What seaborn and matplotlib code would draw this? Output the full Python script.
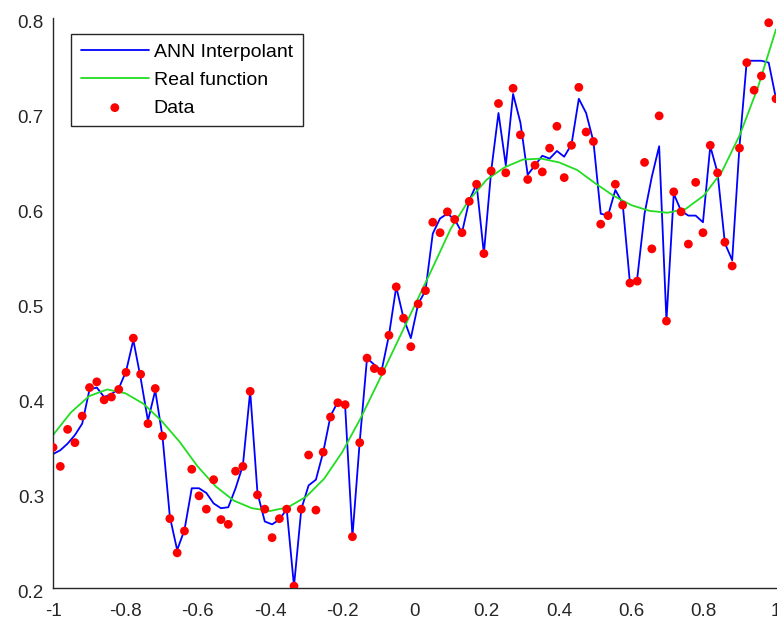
import numpy as np
import pandas as pd
import matplotlib
matplotlib.use("Agg")
import matplotlib.pyplot as plt
import seaborn as sns
from matplotlib.ticker import FuncFormatter, FixedLocator
from matplotlib.transforms import ScaledTranslation

# ---------------- data ----------------
data_x = np.linspace(-1, 1, 100)
data_y = [0.348, 0.328, 0.367, 0.353, 0.381, 0.411, 0.417, 0.398, 0.401, 0.409,
          0.427, 0.463, 0.425, 0.373, 0.410, 0.360, 0.273, 0.237, 0.260, 0.325,
          0.297, 0.283, 0.314, 0.272, 0.267, 0.323, 0.328, 0.407, 0.298, 0.283,
          0.253, 0.273, 0.283, 0.202, 0.283, 0.340, 0.282, 0.343, 0.380, 0.395,
          0.393, 0.254, 0.353, 0.442, 0.431, 0.428, 0.466, 0.517, 0.484, 0.454,
          0.499, 0.513, 0.585, 0.574, 0.596, 0.588, 0.574, 0.607, 0.625, 0.552,
          0.639, 0.710, 0.637, 0.726, 0.677, 0.630, 0.645, 0.638, 0.663, 0.686,
          0.632, 0.666, 0.727, 0.680, 0.670, 0.583, 0.592, 0.625, 0.603, 0.521,
          0.523, 0.648, 0.557, 0.697, 0.481, 0.617, 0.596, 0.562, 0.627, 0.574,
          0.666, 0.637, 0.564, 0.539, 0.663, 0.753, 0.724, 0.739, 0.795, 0.715]

ann_y = [0.341, 0.345, 0.352, 0.361, 0.373, 0.409, 0.411, 0.401, 0.404, 0.410,
         0.428, 0.461, 0.421, 0.376, 0.408, 0.359, 0.275, 0.240, 0.261, 0.305,
         0.305, 0.300, 0.289, 0.284, 0.285, 0.305, 0.329, 0.407, 0.300, 0.270,
         0.267, 0.272, 0.283, 0.202, 0.283, 0.308, 0.314, 0.343, 0.381, 0.396,
         0.392, 0.254, 0.354, 0.442, 0.435, 0.429, 0.466, 0.517, 0.484, 0.463,
         0.499, 0.513, 0.573, 0.589, 0.594, 0.588, 0.574, 0.608, 0.625, 0.552,
         0.639, 0.700, 0.645, 0.720, 0.690, 0.635, 0.645, 0.655, 0.652, 0.660,
         0.654, 0.667, 0.715, 0.700, 0.670, 0.594, 0.592, 0.619, 0.605, 0.521,
         0.526, 0.594, 0.633, 0.665, 0.481, 0.615, 0.597, 0.592, 0.592, 0.585,
         0.665, 0.637, 0.563, 0.545, 0.665, 0.755, 0.755, 0.755, 0.753, 0.715]

real_x = [-1.00, -0.95, -0.90, -0.85, -0.80, -0.75, -0.70, -0.65, -0.60, -0.55,
          -0.50, -0.45, -0.40, -0.35, -0.30, -0.25, -0.20, -0.15, -0.10, -0.05,
          0.00, 0.05, 0.10, 0.15, 0.20, 0.25, 0.30, 0.35, 0.40, 0.45,
          0.50, 0.55, 0.60, 0.65, 0.70, 0.75, 0.80, 0.85, 0.90, 0.95, 1.00]
real_y = [0.361, 0.385, 0.402, 0.409, 0.405, 0.394, 0.376, 0.354, 0.328, 0.307,
          0.292, 0.284, 0.281, 0.285, 0.296, 0.315, 0.343, 0.378, 0.417, 0.457,
          0.497, 0.537, 0.578, 0.608, 0.630, 0.643, 0.651, 0.652, 0.648, 0.640,
          0.626, 0.613, 0.603, 0.597, 0.595, 0.599, 0.613, 0.638, 0.677, 0.727, 0.788]

x_ticks = [-1, -0.8, -0.6, -0.4, -0.2, 0, 0.2, 0.4, 0.6, 0.8, 1]
y_ticks = [0.2, 0.3, 0.4, 0.5, 0.6, 0.7, 0.8]

df_ann = pd.DataFrame({"x": data_x, "y": ann_y})
df_real = pd.DataFrame({"x": real_x, "y": real_y})
df_data = pd.DataFrame({"x": data_x, "y": data_y})

# ---------------- style ----------------
sns.set_theme(style="white")
plt.rcParams["font.family"] = ["Liberation Sans", "DejaVu Sans"]
plt.rcParams["axes.unicode_minus"] = False

fig = plt.figure(figsize=(7.77, 6.26), dpi=100)
ax = fig.add_axes([53 / 777, 38 / 626, 723 / 777, 570 / 626])

sns.lineplot(data=df_ann, x="x", y="y", ax=ax, color="#0000ff", linewidth=1.3,
             estimator=None, sort=False, label="ANN Interpolant")
sns.lineplot(data=df_real, x="x", y="y", ax=ax, color="#22dd22", linewidth=1.3,
             estimator=None, sort=False, label="Real function")
sns.scatterplot(data=df_data, x="x", y="y", ax=ax, color="#ff0000", s=40,
                edgecolor="none", linewidth=0, label="Data", zorder=3)

ax.set_xlim(-1, 1)
ax.set_ylim(0.2, 0.8)
ax.xaxis.set_major_locator(FixedLocator(x_ticks))
ax.yaxis.set_major_locator(FixedLocator(y_ticks))
fmt = FuncFormatter(lambda v, p: "%g" % round(v, 2))
ax.xaxis.set_major_formatter(fmt)
ax.yaxis.set_major_formatter(fmt)
ax.set_xlabel("")
ax.set_ylabel("")

for side in ["top", "right"]:
    ax.spines[side].set_visible(False)
for side in ["left", "bottom"]:
    ax.spines[side].set_color("#262626")
    ax.spines[side].set_linewidth(1.0)

ax.tick_params(axis="both", direction="in", length=4, width=1.0,
               color="#262626", labelcolor="#262626", labelsize=13.5)
ax.tick_params(axis="x", pad=10.5)
ax.tick_params(axis="y", pad=6.5)

# MATLAB-like slight downward offset of the y tick labels
shift = ScaledTranslation(0, -3 / 100, fig.dpi_scale_trans)
for lab in ax.get_yticklabels():
    lab.set_transform(lab.get_transform() + shift)

leg = ax.legend(loc="upper left", bbox_to_anchor=(0.025, 0.972), borderaxespad=0,
                fontsize=14, frameon=True, fancybox=False, framealpha=1,
                edgecolor="#262626", handlelength=3.5, handletextpad=0.25,
                labelspacing=0.52, borderpad=0.5, scatterpoints=1)
leg.get_frame().set_linewidth(1.0)
for t in leg.get_texts():
    t.set_color("#000000")

fig.savefig("out.png", dpi=100)
